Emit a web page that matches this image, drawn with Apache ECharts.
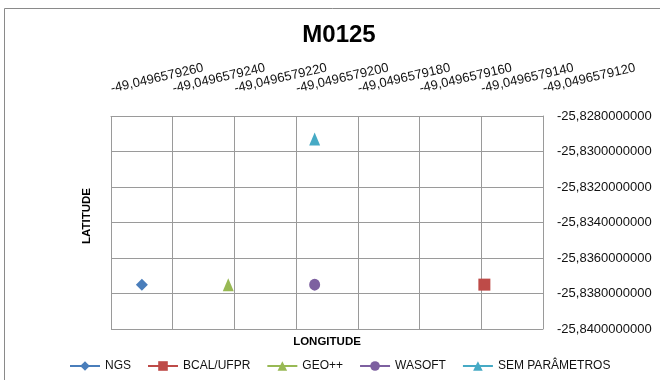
<!DOCTYPE html>
<html>
<head>
<meta charset="utf-8">
<script src="https://cdn.jsdelivr.net/npm/echarts@6/dist/echarts.min.js"></script>
<style>
  html, body { margin: 0; padding: 0; background: #fff; }
  #chart { width: 660px; height: 380px; }
</style>
</head>
<body>
<div id="chart"></div>
<script>
// Station M0125: coordinates computed by each method
const categories = ['NGS', 'BCAL/UFPR', 'GEO++', 'WASOFT', 'SEM PARÂMETROS'];
const longitudes = [-49.0496579250, -49.0496579139, -49.0496579222, -49.0496579194, -49.0496579194];
const latitudes  = [-25.8375, -25.8375, -25.8375, -25.8375, -25.8293];

// Axis tick values
const lonTicks = [-49.0496579260, -49.0496579240, -49.0496579220, -49.0496579200,
                  -49.0496579180, -49.0496579160, -49.0496579140, -49.0496579120];
const latTicks = [-25.840, -25.838, -25.836, -25.834, -25.832, -25.830, -25.828];

const colors  = ['#4A7EBB', '#BE4B48', '#98B954', '#7D60A0', '#46AAC5'];
const symbols = ['diamond', 'rect', 'triangle', 'circle', 'triangle'];
const sizes   = [[12, 12], [12, 12], [11, 13], [11, 12], [11, 13]];

const FONT = 'Liberation Sans, Arial, sans-serif';
const fmt = v => Number(v).toFixed(10).replace('.', ',');

const chart = echarts.init(document.getElementById('chart'), null, { renderer: 'canvas' });

const series = categories.map((name, i) => ({
  name,
  type: 'line',
  data: [[longitudes[i], latitudes[i]]],
  symbol: symbols[i],
  symbolSize: sizes[i],
  showSymbol: true,
  itemStyle: { color: colors[i] },
  lineStyle: { color: colors[i], width: 2.5 },
  emphasis: { disabled: true },
  z: 3
}));

chart.setOption({
  animation: false,
  textStyle: { fontFamily: FONT },
  title: {
    text: 'M0125',
    left: 334, top: 18,
    textAlign: 'center',
    textStyle: { fontFamily: FONT, fontSize: 24, fontWeight: 'bold', color: '#000' }
  },
  legend: {
    left: 64, top: 355,
    itemWidth: 30, itemHeight: 12, itemGap: 16,
    textStyle: { fontFamily: FONT, fontSize: 12, color: '#111' },
    data: categories
  },
  grid: { left: 111, right: 117, top: 116, bottom: 51, show: false },
  xAxis: {
    type: 'value',
    position: 'top',
    min: lonTicks[0],
    max: lonTicks[lonTicks.length - 1],
    interval: lonTicks[1] - lonTicks[0],
    axisLine: { show: true, lineStyle: { color: '#9a9a9a', width: 1 } },
    axisTick: { show: false },
    splitLine: { show: true, lineStyle: { color: '#9a9a9a', width: 1 } },
    axisLabel: {
      rotate: -13, margin: 27,
      fontFamily: FONT, fontSize: 13, color: '#111',
      formatter: fmt
    }
  },
  yAxis: {
    type: 'value',
    position: 'right',
    min: latTicks[0],
    max: latTicks[latTicks.length - 1],
    interval: 0.002,
    axisLine: { show: true, lineStyle: { color: '#9a9a9a', width: 1 } },
    axisTick: { show: false },
    splitLine: { show: true, lineStyle: { color: '#9a9a9a', width: 1 } },
    axisLabel: {
      margin: 14,
      fontFamily: FONT, fontSize: 13, color: '#111',
      formatter: fmt
    }
  },
  graphic: [
    {
      type: 'rect', silent: true, z: 0,
      shape: { x: 4.5, y: 8.5, width: 700, height: 400 },
      style: { fill: null, stroke: '#8a8a8a', lineWidth: 1 }
    },
    {
      type: 'text', silent: true,
      x: 327, y: 342,
      style: { text: 'LONGITUDE', font: 'bold 11.5px ' + FONT, fill: '#000',
               textAlign: 'center', textVerticalAlign: 'middle' }
    },
    {
      type: 'text', silent: true,
      x: 87, y: 216, rotation: Math.PI / 2,
      style: { text: 'LATITUDE', font: 'bold 11.5px ' + FONT, fill: '#000',
               textAlign: 'center', textVerticalAlign: 'middle' }
    },
    {
      type: 'line', silent: true, z: 1,
      shape: { x1: 111.5, y1: 116, x2: 111.5, y2: 329 },
      style: { stroke: '#9a9a9a', lineWidth: 1 }
    }
  ],
  series
});
</script>
</body>
</html>
